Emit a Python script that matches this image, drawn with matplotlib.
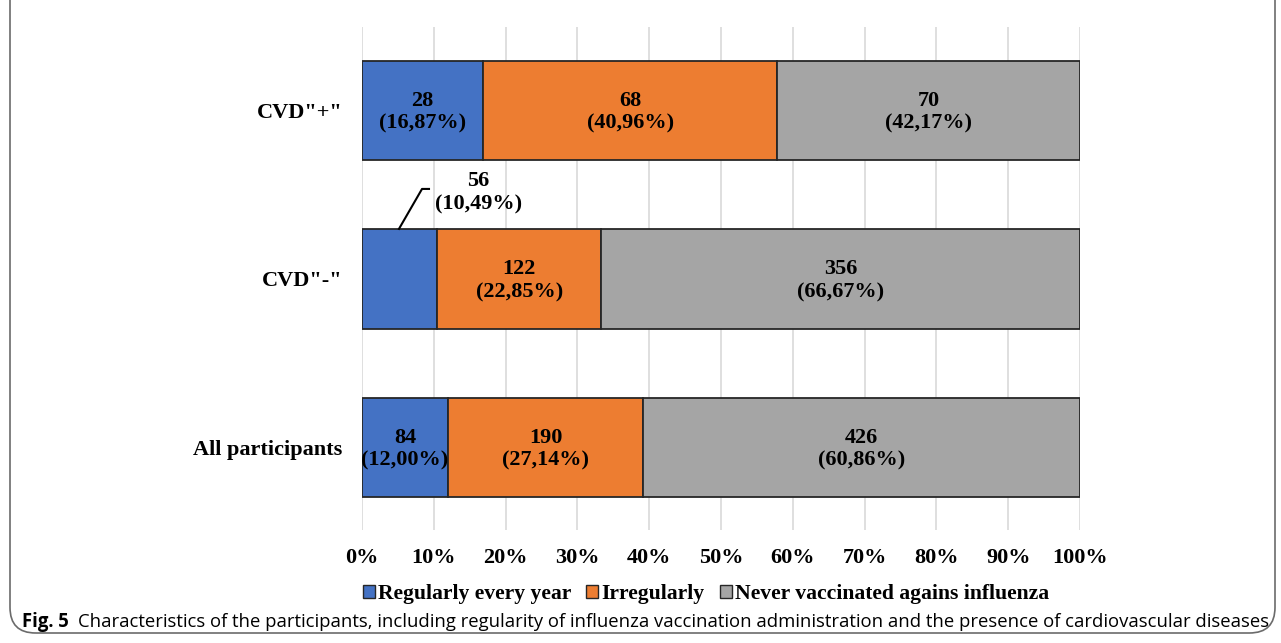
import matplotlib
matplotlib.use("Agg")
import matplotlib.pyplot as plt
from matplotlib.patches import FancyBboxPatch, Patch
import numpy as np

categories = ['All participants', 'CVD"-"', 'CVD"+"']
series_names = ['Regularly every year', 'Irregularly', 'Never vaccinated agains influenza']
counts = {
    'Regularly every year': [84, 56, 28],
    'Irregularly': [190, 122, 68],
    'Never vaccinated agains influenza': [426, 356, 70],
}
percents = {
    'Regularly every year': [12.00, 10.49, 16.87],
    'Irregularly': [27.14, 22.85, 40.96],
    'Never vaccinated agains influenza': [60.86, 66.67, 42.17],
}
colors = ['#4472C4', '#ED7D31', '#A5A5A5']
xticks = list(range(0, 101, 10))
caption_bold = 'Fig. 5'
caption_text = ('Characteristics of the participants, including regularity of influenza '
                'vaccination administration and the presence of cardiovascular diseases')

W, H = 1281, 643
fig = plt.figure(figsize=(W / 100, H / 100), dpi=100)
serif = 'Liberation Serif'
FS = 16

# rounded frame
frame = FancyBboxPatch((10 / W, 10 / H), (1265) / W, (660) / H,
                       boxstyle='round,pad=0,rounding_size=0.02',
                       transform=fig.transFigure, fill=False,
                       edgecolor='#6b6b6b', linewidth=1.2, mutation_aspect=W / H)
fig.patches.append(frame)

ax = fig.add_axes([362 / W, 1 - 530 / H, (1080 - 362) / W, (530 - 27) / H])
y = np.arange(len(categories))
left = np.zeros(len(categories))
for name, c in zip(series_names, colors):
    vals = np.array(percents[name])
    ax.barh(y, vals, left=left, height=0.59, color=c, edgecolor='#262626',
            linewidth=1.3, label=name, zorder=3)
    for i in range(len(categories)):
        txt = f"{counts[name][i]}\n({percents[name][i]:.2f}%)".replace('.', ',')
        if name == 'Regularly every year' and categories[i] == 'CVD"-"':
            continue
        ax.text(left[i] + vals[i] / 2, y[i] - 0.01, txt, ha='center', va='center',
                fontsize=FS, fontweight='bold', family=serif, linespacing=1.2,
                zorder=4)
    left = left + vals

# callout for CVD"-" regularly
i = categories.index('CVD"-"')
v = percents['Regularly every year'][i]
ax.text(16.2, i + 0.51, f"{counts['Regularly every year'][i]}\n({v:.2f}%)".replace('.', ','),
        ha='center', va='center', fontsize=FS, fontweight='bold', family=serif,
        linespacing=1.2, zorder=4)
ax.plot([5.15, 8.36, 9.33], [i + 0.297, i + 0.534, i + 0.534], color='black', lw=1.5,
        zorder=4, clip_on=False)

ax.set_xlim(0, 100)
ax.set_ylim(-0.49, 2.495)
ax.set_xticks(xticks)
ax.set_xticklabels([f"{t}%" for t in xticks], fontsize=FS, fontweight='bold', family=serif)
ax.set_yticks(y)
ax.set_yticklabels(categories, fontsize=FS, fontweight='bold', family=serif)
ax.tick_params(length=0, pad=13, axis='x')
ax.tick_params(length=0, pad=14, axis='y')
ax.grid(axis='x', color='#d9d9d9', linewidth=1.2, zorder=0)
for s in ax.spines.values():
    s.set_visible(False)

handles = [Patch(facecolor=c, edgecolor='#262626', linewidth=1.0) for c in colors]
fig.legend(handles, series_names, loc='center', bbox_to_anchor=(706 / W, 1 - 594 / H),
           ncol=3, frameon=False, prop={'family': serif, 'weight': 'bold', 'size': 15.6},
           handlelength=0.55, handleheight=0.55, handletextpad=0.15, columnspacing=0.7)

t1 = fig.text(22 / W, 1 - 622 / H, caption_bold, fontsize=13.35, fontweight='bold',
              family='Open Sans', va='center', ha='left')
fig.canvas.draw()
bb = t1.get_window_extent()
fig.text((bb.x1 + 9) / W, 1 - 622 / H, caption_text, fontsize=13.35,
         family='Open Sans', va='center', ha='left')

fig.savefig('out.png', dpi=100)
